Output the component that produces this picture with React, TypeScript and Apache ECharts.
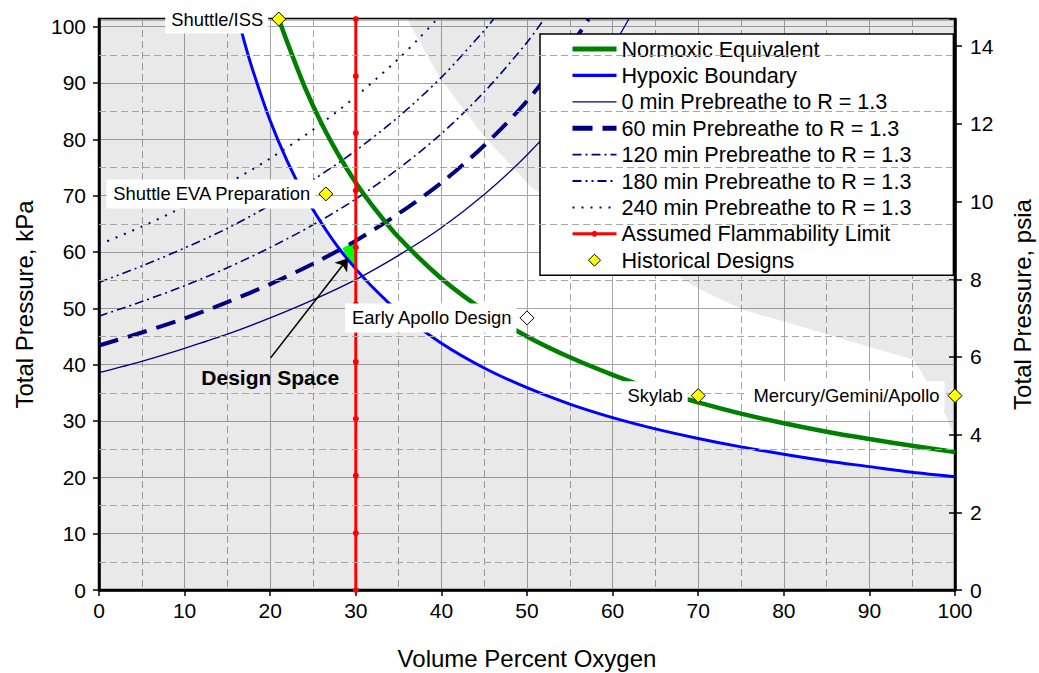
import React, { useEffect, useRef } from 'react';
import * as echarts from 'echarts';

const FONT = "'Liberation Sans', Arial, Helvetica, sans-serif";
const NAVY = '#000080';

// X axis: volume percent oxygen; Y axis: total pressure kPa
const hypoxicX = [16.3, 17, 18, 20, 22, 24, 26, 28, 30, 32, 35, 40, 45, 50, 55, 60, 65, 70, 75, 80, 85, 90, 95, 100];
const hypoxicKPa = [101.35, 97.2, 92.1, 83.3, 76.1, 70.1, 65.1, 60.7, 57.0, 53.7, 49.4, 43.8, 39.4, 35.9, 33.0, 30.6, 28.6, 26.9, 25.4, 24.1, 22.9, 21.9, 20.9, 20.1];

const normoxicX = [21, 22, 24, 26, 28, 30, 32, 35, 40, 45, 50, 55, 60, 65, 70, 75, 80, 85, 90, 95, 100];
const normoxicKPa = [101.35, 97.2, 89.4, 82.8, 77.2, 72.3, 68.1, 62.6, 55.3, 49.6, 45.0, 41.3, 38.2, 35.5, 33.3, 31.3, 29.6, 28.1, 26.8, 25.6, 24.5];

const pb0X = [0, 5, 10, 15, 20, 25, 30, 35, 40, 45, 50, 55, 60, 61.9];
const pb0KPa = [38.6, 40.6, 42.9, 45.4, 48.3, 51.5, 55.1, 59.4, 64.3, 70.2, 77.2, 85.8, 96.5, 101.35];
const pb60X = [0, 5, 10, 15, 20, 25, 30, 35, 40, 45, 50, 55, 57.2];
const pb60KPa = [43.4, 45.7, 48.2, 51.1, 54.3, 57.9, 62.0, 66.8, 72.3, 78.9, 86.8, 96.4, 101.35];
const pb120X = [0, 5, 10, 15, 20, 25, 30, 35, 40, 45, 50, 52.0];
const pb120KPa = [48.6, 51.2, 54.0, 57.2, 60.8, 64.8, 69.4, 74.8, 81.0, 88.4, 97.2, 101.35];
const pb180X = [0, 5, 10, 15, 20, 25, 30, 35, 40, 45, 46.1];
const pb180KPa = [54.6, 57.5, 60.7, 64.2, 68.3, 72.8, 78.0, 84.0, 91.0, 99.3, 101.35];
const pb240X = [0, 5, 10, 15, 20, 25, 30, 35, 37.5, 39.5];
const pb240KPa = [61.3, 64.5, 68.1, 72.1, 76.6, 81.7, 87.6, 94.3, 98.1, 101.35];

const flammX = [30, 30, 30, 30, 30, 30, 30, 30, 30, 30, 30];
const flammKPa = [0, 10.1, 20.3, 30.4, 40.5, 50.7, 60.8, 70.9, 81.1, 91.2, 101.35];

// upper-right shaded zone boundary
const upperZoneX = [36.0, 39.8, 45, 50.4, 55, 60, 65.9, 70, 75.3, 81.9, 88, 95.1, 95.9, 98.6, 100];
const upperZoneKPa = [101.35, 90.9, 80.5, 71.6, 67.0, 62.0, 57.4, 53.5, 49.7, 46.8, 44.0, 40.9, 39.1, 32.0, 27.0];

const designSpaceX = [28.4, 30, 30];
const designSpaceKPa = [60.6, 62.0, 57.0];

const historicalNames = ['Shuttle/ISS', 'Shuttle EVA Preparation', 'Early Apollo Design', 'Skylab', 'Mercury/Gemini/Apollo'];
const historicalX = [21, 26.5, 50, 70, 100];
const historicalKPa = [101.35, 70.3, 48.3, 34.5, 34.5];
const historicalFill = ['#ffff00', '#ffff00', '#ffffff', '#ffff00', '#ffff00'];

const yMinorKPa = [5, 15, 25, 35, 45, 55, 65, 75, 85, 95];
const legendNames = [
  'Normoxic Equivalent',
  'Hypoxic Boundary',
  '0 min Prebreathe to R = 1.3',
  '60 min Prebreathe to R = 1.3',
  '120 min Prebreathe to R = 1.3',
  '180 min Prebreathe to R = 1.3',
  '240 min Prebreathe to R = 1.3',
  'Assumed Flammability Limit',
  'Historical Designs',
];
const legendLineWidths = [5, 3.2, 1.3, 5, 1.8, 1.8, 2];

const zip = (xs: number[], ys: number[]) => xs.map((x, i) => [x, ys[i]]);

const hypoxicPoly = [[0, 0], [0, 101.35], ...zip(hypoxicX, hypoxicKPa), [100, 0]];
const upperPoly = [...zip(upperZoneX, upperZoneKPa), [100, 101.35]];
const designPoly = zip(designSpaceX, designSpaceKPa);

const polySeries = (name: string, pts: number[][], fill: string, z: number) => ({
  type: 'custom',
  name,
  z,
  silent: true,
  data: [[0, 0]],
  renderItem: (_p: any, api: any) => ({
    type: 'polygon',
    shape: { points: pts.map((p) => api.coord(p)) },
    style: { fill },
  }),
});

const lineSeries = (name: string, xs: number[], ys: number[], color: string, width: number, type: any, z = 3) => ({
  type: 'line',
  name,
  data: zip(xs, ys),
  symbol: 'none',
  showSymbol: false,
  smooth: 0.3,
  z,
  lineStyle: { color, width, type },
  itemStyle: { color },
  silent: true,
});

export default function App() {
  const ref = useRef<HTMLDivElement>(null);
  useEffect(() => {
    const chart = echarts.init(ref.current!, null, { renderer: 'svg' });
    const axisText = { color: '#000', fontFamily: FONT, fontSize: 21 };
    const nameText = { color: '#000', fontFamily: FONT, fontSize: 24 };
    const option: any = {
      animation: false,
      backgroundColor: '#fff',
      textStyle: { fontFamily: FONT },
      grid: {
        left: 99, right: 84, top: 19, bottom: 83,
        show: true, borderColor: '#000', borderWidth: 2.5, backgroundColor: '#fff',
        outerBoundsMode: 'none',
      },
      legend: {
        orient: 'vertical',
        left: 540,
        top: 34,
        data: legendNames.map((n, i) => {
          if (n === 'Assumed Flammability Limit') {
            return { name: n, icon: 'path://M0,4.5 L19.5,4.5 A2.8,2.8 0 0 1 24.5,4.5 L44,4.5 L44,7.5 L24.5,7.5 A2.8,2.8 0 0 1 19.5,7.5 L0,7.5 Z', itemStyle: { color: '#ff0000', opacity: 1 } };
          }
          if (n === 'Historical Designs') {
            return {
              name: n,
              icon: 'path://M0,6 L0.01,6 M44,6 L43.99,6 M22,0 L28,6 L22,12 L16,6 Z',
              itemStyle: { color: '#ffff00', borderColor: '#000', borderWidth: 1, opacity: 1 },
            };
          }
          return { name: n, itemStyle: { opacity: 0 }, lineStyle: { width: legendLineWidths[i] } };
        }),
        itemWidth: 44,
        itemHeight: 12,
        itemGap: 4.4,
        padding: [4, 42, 4, 30],
        backgroundColor: '#fff',
        borderColor: '#000',
        borderWidth: 1.5,
        textStyle: { color: '#000', fontFamily: FONT, fontSize: 21.6 },
        selectedMode: false,
      },
      xAxis: {
        type: 'value', min: 0, max: 100, interval: 10,
        name: 'Volume Percent Oxygen', nameLocation: 'middle', nameGap: 56,
        nameTextStyle: nameText,
        axisLine: { show: true, lineStyle: { color: '#000', width: 2.5 } },
        axisTick: { show: true, length: 6, lineStyle: { color: '#000', width: 1.5 } },
        axisLabel: { ...axisText, margin: 10 },
        splitLine: { show: true, lineStyle: { color: '#a6a6a6', width: 1 } },
        minorTick: { show: false, splitNumber: 2 },
        minorSplitLine: { show: true, lineStyle: { color: '#a6a6a6', width: 1, type: [7, 4] } },
      },
      yAxis: [
        {
          type: 'value', min: 0, max: 101.35, interval: 10, position: 'left',
          name: 'Total Pressure, kPa', nameLocation: 'middle', nameRotate: 90, nameGap: 63,
          nameTextStyle: nameText,
          axisLine: { show: true, onZero: false, lineStyle: { color: '#000', width: 2.5 } },
          axisTick: { show: true, length: 6, lineStyle: { color: '#000', width: 1.5 } },
          axisLabel: { ...axisText, margin: 13, showMaxLabel: false },
          splitLine: { show: true, lineStyle: { color: '#a6a6a6', width: 1 } },
        },
        {
          type: 'value', min: 0, max: 14.7, interval: 2, position: 'right',
          name: 'Total Pressure, psia', nameLocation: 'middle', nameRotate: 90, nameGap: 55,
          nameTextStyle: nameText,
          axisLine: { show: true, onZero: false, lineStyle: { color: '#000', width: 2.5 } },
          axisTick: { show: true, length: 7, lineStyle: { color: '#000', width: 1.5 } },
          axisLabel: { ...axisText, margin: 15, showMaxLabel: false },
          splitLine: { show: false },
        },
        {
          type: 'value', min: 0, max: 14.7, interval: 2, position: 'right',
          axisLine: { show: false, onZero: false },
          axisTick: { show: true, inside: true, length: 6, lineStyle: { color: '#000', width: 1.5 } },
          axisLabel: { show: false, showMaxLabel: false },
          splitLine: { show: false },
        },
      ],
      series: [
        polySeries('hypoxicZone', hypoxicPoly, 'rgba(0,0,0,0.085)', 1),
        polySeries('upperZone', upperPoly, 'rgba(0,0,0,0.085)', 1),
        polySeries('designSpace', designPoly, '#00ff00', 1),
        {
          type: 'line', name: 'gridMinor', data: [], silent: true, z: 1,
          markLine: {
            silent: true, symbol: 'none', label: { show: false },
            lineStyle: { color: '#a6a6a6', width: 1, type: [7, 4] },
            data: yMinorKPa.map((v) => ({ yAxis: v })),
          },
        },
        lineSeries(legendNames[2], pb0X, pb0KPa, NAVY, 1.3, 'solid'),
        lineSeries(legendNames[3], pb60X, pb60KPa, NAVY, 4, [20, 10]),
        lineSeries(legendNames[4], pb120X, pb120KPa, NAVY, 1.6, [9, 4, 2, 4]),
        lineSeries(legendNames[5], pb180X, pb180KPa, NAVY, 1.6, [9, 4, 2, 4, 2, 4]),
        lineSeries(legendNames[6], pb240X, pb240KPa, NAVY, 2, [2, 7]),
        lineSeries(legendNames[1], hypoxicX, hypoxicKPa, '#0000ff', 3, 'solid', 3),
        lineSeries(legendNames[0], normoxicX, normoxicKPa, '#008000', 4.5, 'solid', 3),
        {
          type: 'line', name: legendNames[7], data: zip(flammX, flammKPa), z: 4, silent: true,
          symbol: 'circle', symbolSize: 6, showSymbol: true,
          lineStyle: { color: '#ff0000', width: 3 }, itemStyle: { color: '#ff0000' },
        },
        {
          type: 'scatter', name: 'annotation', z: 5, silent: true, symbolSize: 0,
          itemStyle: { opacity: 1 },
          data: [{ value: [20.0, 37.7], name: 'Design Space' }],
          label: { show: true, position: 'inside', formatter: '{b}', fontFamily: FONT, fontSize: 21, fontWeight: 'bold', color: '#000' },
          markLine: {
            silent: true, symbol: ['none', 'arrow'], symbolSize: 12, label: { show: false },
            lineStyle: { color: '#000', width: 1.6, type: 'solid' },
            data: [[{ coord: [20.05, 41.2] }, { coord: [29.1, 58.9] }]],
          },
        },
        {
          type: 'scatter', name: legendNames[8], z: 6, silent: true,
          symbol: 'diamond', symbolSize: 14,
          itemStyle: { color: '#ffff00', borderColor: '#000', borderWidth: 1, opacity: 1 },
          label: {
            show: true, position: 'left', distance: 3, formatter: '{b}',
            fontFamily: FONT, fontSize: 18.4, color: '#000',
            backgroundColor: '#fff', padding: [6, 5, 5, 6],
          },
          data: historicalNames.map((n, i) => ({
            name: n,
            value: [historicalX[i], historicalKPa[i]],
            itemStyle: { color: historicalFill[i] },
          })),
        },
      ],
    };
    chart.setOption(option);
    return () => chart.dispose();
  }, []);
  return <div ref={ref} style={{ position: 'fixed', left: 0, top: 0, width: 1039, height: 673, background: '#fff' }} />;
}
